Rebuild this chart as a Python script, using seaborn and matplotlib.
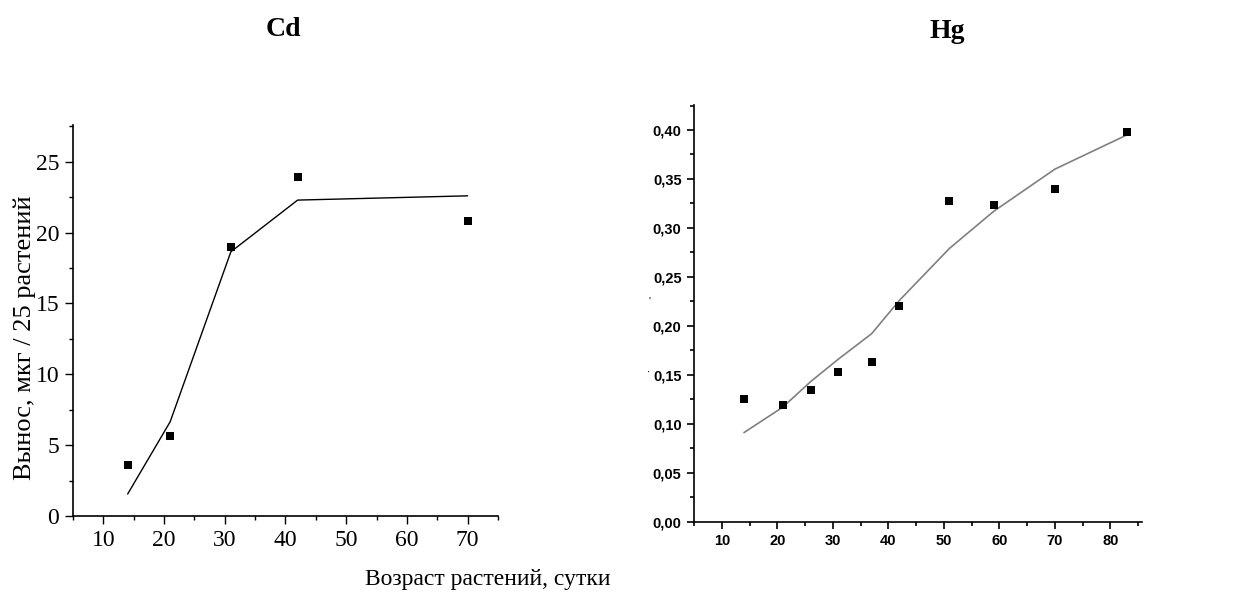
import matplotlib
matplotlib.use("Agg")
import matplotlib.pyplot as plt
from matplotlib.ticker import MultipleLocator, FuncFormatter
import seaborn as sns
import pandas as pd

# Cd: measured points and fitted line
cd_days = [14, 21, 31, 42, 70]
cd_points = [3.6, 5.65, 19.0, 23.9, 20.8]
cd_fit = [1.55, 6.65, 18.65, 22.3, 22.6]

# Hg: measured points and fitted curve
hg_days = [14, 21, 26, 31, 37, 42, 51, 59, 70, 83]
hg_points = [0.125, 0.119, 0.134, 0.153, 0.163, 0.220, 0.327, 0.323, 0.340, 0.398]
hg_fit = [0.091, 0.117, 0.143, 0.166, 0.192, 0.226, 0.279, 0.317, 0.360, 0.395]

titles = ["Cd", "Hg"]
xlabel = "Возраст растений, сутки"
ylabel = "Вынос, мкг / 25 растений"

sns.set_theme(style="ticks")
plt.rcParams['font.family'] = ['Liberation Serif', 'DejaVu Serif']
plt.rcParams['text.color'] = 'black'
plt.rcParams['xtick.color'] = 'black'
plt.rcParams['ytick.color'] = 'black'

cd_df = pd.DataFrame({"day": cd_days, "val": cd_points, "fit": cd_fit})
hg_df = pd.DataFrame({"day": hg_days, "val": hg_points, "fit": hg_fit})

fig = plt.figure(figsize=(12.44, 5.95), dpi=100)
ax1 = fig.add_axes([0.0587, 0.1328, 0.3416, 0.6571])
ax2 = fig.add_axes([0.5579, 0.1232, 0.3601, 0.7003])

# --- left panel (Cd) ---
sns.lineplot(data=cd_df, x="day", y="fit", ax=ax1, color="black", linewidth=1.0)
sns.scatterplot(data=cd_df, x="day", y="val", ax=ax1, marker="s", s=40,
                color="black", edgecolor="black", linewidth=0, zorder=3)
ax1.set_xlim(5, 75)
ax1.set_ylim(0, 27.6)
ax1.set_xticks([10, 20, 30, 40, 50, 60, 70])
ax1.xaxis.set_minor_locator(MultipleLocator(5))
ax1.yaxis.set_major_locator(MultipleLocator(5))
ax1.yaxis.set_minor_locator(MultipleLocator(2.5))
ax1.tick_params(which="major", direction="out", length=6, width=1, labelsize=17, pad=4)
ax1.tick_params(which="minor", direction="out", length=3, width=1)
ax1.set_xlabel("")
ax1.set_ylabel("")

# --- right panel (Hg) ---
sns.lineplot(data=hg_df, x="day", y="fit", ax=ax2, color="#808080", linewidth=1.2)
sns.scatterplot(data=hg_df, x="day", y="val", ax=ax2, marker="s", s=36,
                color="black", edgecolor="black", linewidth=0, zorder=3)
ax2.set_xlim(5, 85.7)
ax2.set_ylim(0, 0.4255)
ax2.set_xticks([10, 20, 30, 40, 50, 60, 70, 80])
ax2.xaxis.set_minor_locator(MultipleLocator(5))
ax2.set_yticks([0, 0.05, 0.10, 0.15, 0.20, 0.25, 0.30, 0.35, 0.40])
ax2.yaxis.set_minor_locator(MultipleLocator(0.025))
ax2.yaxis.set_major_formatter(FuncFormatter(lambda v, p: f"{v:.2f}".replace(".", ",")))
ax2.tick_params(which="major", direction="out", length=5, width=1.2, pad=4)
ax2.tick_params(which="minor", direction="out", length=3, width=1.2)
for lab in ax2.get_xticklabels() + ax2.get_yticklabels():
    lab.set_fontfamily("Liberation Sans")
    lab.set_fontweight("bold")
    lab.set_fontsize(10.5)
ax2.set_xlabel("")
ax2.set_ylabel("")

for ax in (ax1, ax2):
    sns.despine(ax=ax)
    for side in ("left", "bottom"):
        ax.spines[side].set_color("black")
        ax.spines[side].set_linewidth(1.2)

# titles and shared labels
fig.text(283 / 1244, 1 - 29 / 595, titles[0], ha="center", va="center",
         fontsize=20, fontweight="bold")
fig.text(947 / 1244, 1 - 31 / 595, titles[1], ha="center", va="center",
         fontsize=20, fontweight="bold")
fig.text(488 / 1244, 1 - 580 / 595, xlabel, ha="center", va="center", fontsize=17)
fig.text(25 / 1244, 1 - 338 / 595, ylabel, ha="center", va="center",
         rotation=90, fontsize=19)

# small stray marks left of the Hg axis
fig.text(650 / 1244, 1 - 301 / 595, "'", ha="center", va="center", fontsize=8)
fig.text(649 / 1244, 1 - 372 / 595, "·", ha="center", va="center", fontsize=7)

fig.savefig("out.png", dpi=100, facecolor="white")
